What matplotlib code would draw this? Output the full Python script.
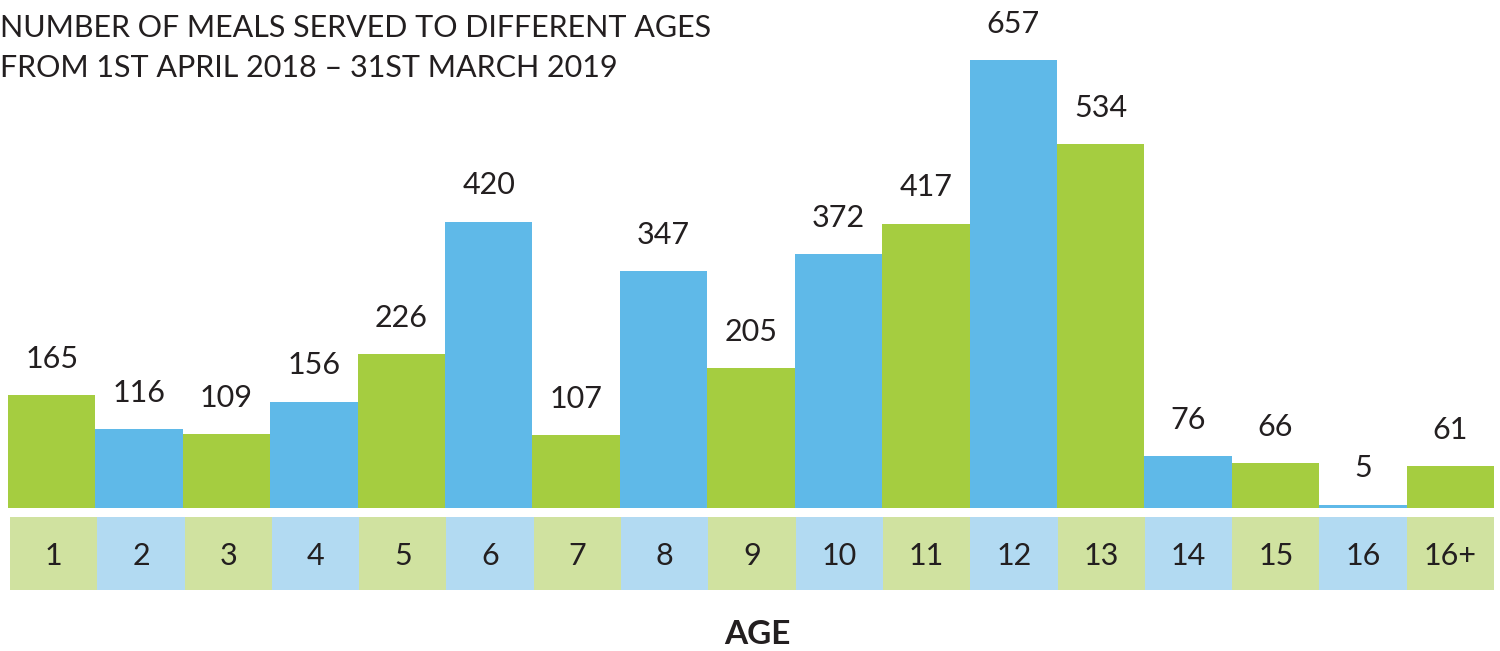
import matplotlib.pyplot as plt

# data
ages = ['1', '2', '3', '4', '5', '6', '7', '8', '9', '10', '11', '12', '13', '14', '15', '16', '16+']
meals = [165, 116, 109, 156, 226, 420, 107, 347, 205, 372, 417, 657, 534, 76, 66, 5, 61]

green = '#a5cd40'
blue = '#5fb9e8'
light_green = '#d0e2a0'
light_blue = '#b2daf2'
ink = '#231f20'

plt.rcParams['font.family'] = ['Lato', 'DejaVu Sans']

fig = plt.figure(figsize=(15, 6.51), dpi=100)

# main bars
ax = fig.add_axes([8 / 1500, (651 - 508) / 651, 1486 / 1500, 508 / 651])
x = list(range(len(ages)))
cols = [green if i % 2 == 0 else blue for i in x]
ax.bar(x, meals, width=1.0, color=cols, linewidth=0)
for i, v in zip(x, meals):
    ax.annotate(str(v), (i, v), xytext=(0, 26), textcoords='offset points',
                ha='center', va='center', fontsize=22, color=ink)
ax.set_xlim(-0.5, len(ages) - 0.5)
ax.set_ylim(0, 508 / 0.682)
ax.axis('off')

# age strip
ax2 = fig.add_axes([10 / 1500, (651 - 590) / 651, 1484 / 1500, 73 / 651])
strip_cols = [light_green if i % 2 == 0 else light_blue for i in x]
ax2.bar(x, [1] * len(ages), width=1.0, color=strip_cols, linewidth=0)
for i, a in zip(x, ages):
    ax2.text(i, 0.46, a, ha='center', va='center', fontsize=22, color=ink)
ax2.set_xlim(-0.5, len(ages) - 0.5)
ax2.set_ylim(0, 1)
ax2.axis('off')

fig.text(757 / 1500, 1 - 634 / 651, 'AGE', ha='center', va='center',
         fontsize=24, fontweight='bold', color=ink)

fig.text(0.0, 1 - 28 / 651, 'NUMBER OF MEALS SERVED TO DIFFERENT AGES',
         ha='left', va='center', fontsize=22, color=ink)
fig.text(0.0, 1 - 68 / 651, 'FROM 1ST APRIL 2018 \u2013 31ST MARCH 2019',
         ha='left', va='center', fontsize=22, color=ink)

fig.savefig('out.png', dpi=100)
